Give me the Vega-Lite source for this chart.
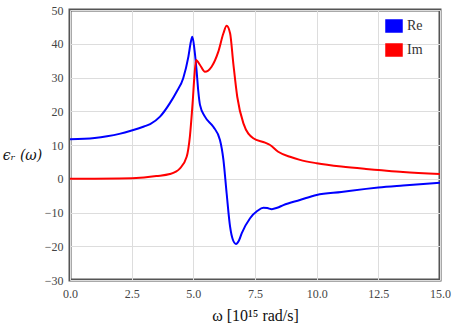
{
  "$schema": "https://vega.github.io/schema/vega-lite/v6.json",
  "width": 370,
  "height": 270,
  "autosize": {"type": "none"},
  "padding": {"left": 70, "top": 10, "right": 12, "bottom": 53},
  "background": "white",
  "config": {
    "view": {"stroke": "#555555", "strokeWidth": 3},
    "axis": {"labelFont": "Liberation Serif", "labelFontSize": 12, "labelColor": "#444444", "titleFont": "Liberation Serif", "titleColor": "#111111", "titleFontWeight": "normal", "gridColor": "#dddddd", "gridWidth": 1, "domain": false, "ticks": false, "labelFlush": false, "labelOverlap": false}
  },
  "data": {"values": [
    {"w": 0, "v": 11.7, "s": "Re"}, {"w": 1, "v": 12.1, "s": "Re"}, {"w": 1.5, "v": 12.6, "s": "Re"}, {"w": 2, "v": 13.3, "s": "Re"}, {"w": 2.5, "v": 14.3, "s": "Re"}, {"w": 3, "v": 15.5, "s": "Re"}, {"w": 3.25, "v": 16.2, "s": "Re"}, {"w": 3.65, "v": 18.4, "s": "Re"}, {"w": 4.05, "v": 22.4, "s": "Re"}, {"w": 4.3, "v": 25.5, "s": "Re"}, {"w": 4.59, "v": 29.8, "s": "Re"}, {"w": 4.8, "v": 36.2, "s": "Re"}, {"w": 4.9, "v": 40.6, "s": "Re"}, {"w": 4.96, "v": 42.1, "s": "Re"}, {"w": 5.05, "v": 38, "s": "Re"}, {"w": 5.13, "v": 32.2, "s": "Re"}, {"w": 5.2, "v": 26, "s": "Re"}, {"w": 5.27, "v": 21.9, "s": "Re"}, {"w": 5.47, "v": 18.4, "s": "Re"}, {"w": 5.81, "v": 15.4, "s": "Re"}, {"w": 6.08, "v": 11.5, "s": "Re"}, {"w": 6.22, "v": 5.6, "s": "Re"}, {"w": 6.35, "v": -4.3, "s": "Re"}, {"w": 6.49, "v": -14.2, "s": "Re"}, {"w": 6.6, "v": -18, "s": "Re"}, {"w": 6.73, "v": -19.3, "s": "Re"}, {"w": 6.85, "v": -18.3, "s": "Re"}, {"w": 6.96, "v": -16.2, "s": "Re"}, {"w": 7.3, "v": -11.7, "s": "Re"}, {"w": 7.6, "v": -9.5, "s": "Re"}, {"w": 7.84, "v": -8.6, "s": "Re"}, {"w": 8.0, "v": -8.7, "s": "Re"}, {"w": 8.18, "v": -9.0, "s": "Re"}, {"w": 8.4, "v": -8.6, "s": "Re"}, {"w": 8.65, "v": -7.8, "s": "Re"}, {"w": 9.32, "v": -6.3, "s": "Re"}, {"w": 10, "v": -4.8, "s": "Re"}, {"w": 11, "v": -3.9, "s": "Re"}, {"w": 12, "v": -3.0, "s": "Re"}, {"w": 12.5, "v": -2.6, "s": "Re"}, {"w": 13.5, "v": -2.0, "s": "Re"}, {"w": 15, "v": -1.2, "s": "Re"},
    {"w": 0, "v": 0, "s": "Im"}, {"w": 1, "v": 0, "s": "Im"}, {"w": 2, "v": 0.05, "s": "Im"}, {"w": 3, "v": 0.4, "s": "Im"}, {"w": 3.5, "v": 0.8, "s": "Im"}, {"w": 4.05, "v": 1.4, "s": "Im"}, {"w": 4.46, "v": 3.1, "s": "Im"}, {"w": 4.73, "v": 6.5, "s": "Im"}, {"w": 4.86, "v": 12.5, "s": "Im"}, {"w": 4.97, "v": 22.4, "s": "Im"}, {"w": 5.05, "v": 31, "s": "Im"}, {"w": 5.11, "v": 35.2, "s": "Im"}, {"w": 5.27, "v": 33.7, "s": "Im"}, {"w": 5.47, "v": 31.7, "s": "Im"}, {"w": 5.74, "v": 33.2, "s": "Im"}, {"w": 6.01, "v": 37.6, "s": "Im"}, {"w": 6.22, "v": 43.1, "s": "Im"}, {"w": 6.35, "v": 45.3, "s": "Im"}, {"w": 6.49, "v": 43.1, "s": "Im"}, {"w": 6.62, "v": 34.2, "s": "Im"}, {"w": 6.78, "v": 24.3, "s": "Im"}, {"w": 7.03, "v": 16.4, "s": "Im"}, {"w": 7.43, "v": 12.0, "s": "Im"}, {"w": 7.91, "v": 10.7, "s": "Im"}, {"w": 8.11, "v": 10.0, "s": "Im"}, {"w": 8.44, "v": 8.0, "s": "Im"}, {"w": 8.92, "v": 6.5, "s": "Im"}, {"w": 9.32, "v": 5.6, "s": "Im"}, {"w": 10, "v": 4.6, "s": "Im"}, {"w": 11, "v": 3.6, "s": "Im"}, {"w": 12, "v": 2.9, "s": "Im"}, {"w": 12.5, "v": 2.6, "s": "Im"}, {"w": 13.5, "v": 2.0, "s": "Im"}, {"w": 15, "v": 1.4, "s": "Im"}
  ]},
  "mark": {"type": "line", "strokeWidth": 2, "interpolate": "monotone"},
  "encoding": {
    "x": {"field": "w", "type": "quantitative", "scale": {"domain": [0, 15], "nice": false}, "axis": {"values": [0, 2.5, 5, 7.5, 10, 12.5, 15], "format": ".1f", "labelPadding": 8, "title": "ω [10¹⁵ rad/s]", "titleFontSize": 16, "titlePadding": 8}},
    "y": {"field": "v", "type": "quantitative", "scale": {"domain": [-30, 50], "nice": false}, "axis": {"values": [-30, -20, -10, 0, 10, 20, 30, 40, 50], "labelPadding": 7, "title": "ϵᵣ (ω)", "titleAngle": 0, "titleX": -48, "titleY": 145, "titleAlign": "center", "titleBaseline": "middle", "titleFontSize": 14, "titleFontStyle": "italic", "titleFont": "DejaVu Serif"}},
    "color": {"field": "s", "type": "nominal", "scale": {"domain": ["Re", "Im"], "range": ["#0000ff", "#ff0000"]}, "legend": {"title": null, "orient": "none", "legendX": 315, "legendY": 7, "symbolType": "M-1,-0.75H1V0.75H-1Z", "symbolSize": 256, "symbolStrokeColor": "#cccccc", "symbolStrokeWidth": 1.5, "labelFont": "Liberation Serif", "labelFontSize": 14, "labelColor": "#333333", "rowPadding": 6, "labelOffset": 4, "encode": {"symbols": {"update": {"fill": {"field": "value", "scale": "color"}, "stroke": {"value": "#cccccc"}, "fillOpacity": {"value": 1}}}}}}
  }
}
